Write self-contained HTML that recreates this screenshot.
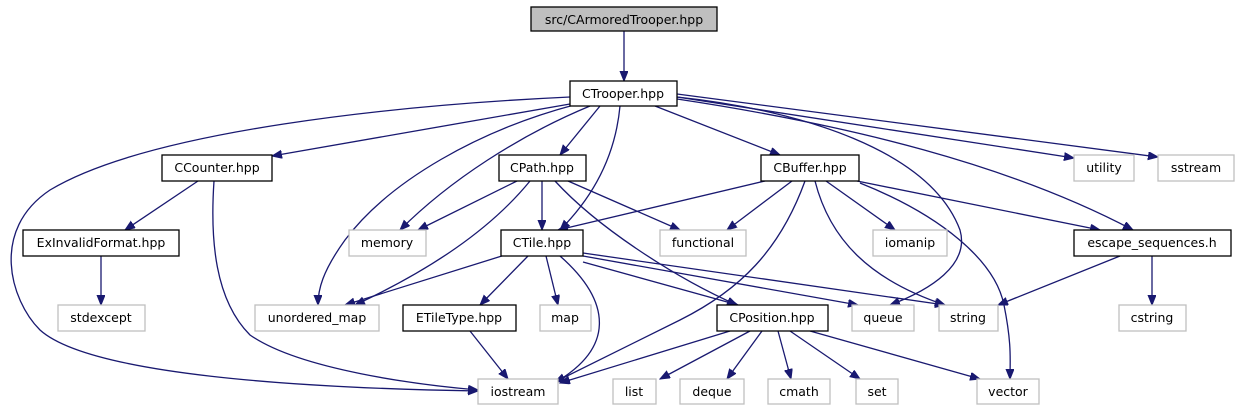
<!DOCTYPE html>
<html><head><meta charset="utf-8"><style>
html,body{margin:0;padding:0;background:#fff;}
svg{display:block;}
text{font-family:"DejaVu Sans","Liberation Sans",sans-serif;font-size:12.5px;fill:#000;text-anchor:middle;}
.d{fill:#fff;stroke:#000;stroke-width:1.3;}
.u{fill:#fff;stroke:#bfbfbf;stroke-width:1.3;}
.e{fill:none;stroke:#191970;stroke-width:1.3;}
</style></head><body>
<svg width="1238" height="411" viewBox="0 0 1238 411" xmlns="http://www.w3.org/2000/svg">
<defs><marker id="a" markerUnits="userSpaceOnUse" markerWidth="11" markerHeight="9" refX="10" refY="4" orient="auto"><path d="M0,0 L10,4 L0,8 z" fill="#191970" stroke="#191970"/></marker></defs>
<g marker-end="url(#a)">
<path class="e" d="M624,31 L624,81"/>
<path class="e" d="M570,97 C400,105 150,130 50,190 C-10,230 10,300 40,330 C90,375 300,388 478,391"/>
<path class="e" d="M570,104 L272,156"/>
<path class="e" d="M574,105 C480,130 390,180 345,240 C322,272 318,290 318,305"/>
<path class="e" d="M590,106 C520,135 450,180 400,230"/>
<path class="e" d="M600,106 L560,155"/>
<path class="e" d="M620,106 C615,160 590,200 560,230"/>
<path class="e" d="M655,106 L780,155"/>
<path class="e" d="M677,97 C800,110 930,150 960,230 C970,265 930,290 890,305"/>
<path class="e" d="M677,99 C850,125 1010,165 1133,230"/>
<path class="e" d="M677,97 L1074,158"/>
<path class="e" d="M677,94 L1158,157"/>
<path class="e" d="M198,181 L125,230"/>
<path class="e" d="M214,181 C210,240 215,300 250,335 C300,370 420,385 478,390"/>
<path class="e" d="M101,256 L101,305"/>
<path class="e" d="M517,181 L418,230"/>
<path class="e" d="M530,181 C490,230 430,270 355,305"/>
<path class="e" d="M542,181 L542,230"/>
<path class="e" d="M568,181 L680,230"/>
<path class="e" d="M555,181 C600,230 680,280 737,305"/>
<path class="e" d="M765,181 L558,230"/>
<path class="e" d="M792,181 L727,230"/>
<path class="e" d="M805,181 C780,250 740,290 680,320 C620,350 580,370 555,382"/>
<path class="e" d="M815,181 C830,240 870,280 945,305"/>
<path class="e" d="M826,181 L895,230"/>
<path class="e" d="M860,183 C940,215 995,260 1004,305 C1012,345 1010,360 1010,379"/>
<path class="e" d="M857,181 L1100,230"/>
<path class="e" d="M505,255 L345,305"/>
<path class="e" d="M528,256 L480,305"/>
<path class="e" d="M546,256 L558,305"/>
<path class="e" d="M560,256 C610,300 620,350 545,388"/>
<path class="e" d="M583,262 L738,305"/>
<path class="e" d="M583,256 L858,305"/>
<path class="e" d="M583,253 L945,305"/>
<path class="e" d="M470,331 L508,379"/>
<path class="e" d="M730,331 L560,383"/>
<path class="e" d="M750,331 L660,379"/>
<path class="e" d="M762,331 L727,379"/>
<path class="e" d="M778,331 L791,379"/>
<path class="e" d="M790,331 L860,379"/>
<path class="e" d="M810,331 L980,379"/>
<path class="e" d="M1120,256 L998,305"/>
<path class="e" d="M1152,256 L1152,305"/>
</g>
<rect x="531" y="7" width="186" height="24" fill="#bfbfbf" stroke="#000" stroke-width="1.3"/><text x="624" y="24">src/CArmoredTrooper.hpp</text>
<rect class="d" x="570" y="81" width="107" height="25"/><text x="623" y="98">CTrooper.hpp</text>
<rect class="d" x="162" y="155" width="110" height="26"/><text x="217" y="172">CCounter.hpp</text>
<rect class="d" x="499" y="155" width="87" height="26"/><text x="542" y="172">CPath.hpp</text>
<rect class="d" x="761" y="155" width="98" height="26"/><text x="810" y="172">CBuffer.hpp</text>
<rect class="u" x="1074" y="155" width="60" height="26"/><text x="1104" y="172">utility</text>
<rect class="u" x="1158" y="155" width="76" height="26"/><text x="1196" y="172">sstream</text>
<rect class="d" x="23" y="230" width="156" height="26"/><text x="101" y="247">ExInvalidFormat.hpp</text>
<rect class="u" x="349" y="230" width="77" height="26"/><text x="387" y="247">memory</text>
<rect class="d" x="501" y="230" width="82" height="26"/><text x="542" y="247">CTile.hpp</text>
<rect class="u" x="660" y="230" width="86" height="26"/><text x="703" y="247">functional</text>
<rect class="u" x="873" y="230" width="74" height="26"/><text x="910" y="247">iomanip</text>
<rect class="d" x="1074" y="230" width="157" height="26"/><text x="1152" y="247">escape_sequences.h</text>
<rect class="u" x="58" y="305" width="87" height="26"/><text x="101" y="322">stdexcept</text>
<rect class="u" x="255" y="305" width="124" height="26"/><text x="317" y="322">unordered_map</text>
<rect class="d" x="403" y="305" width="113" height="26"/><text x="459" y="322">ETileType.hpp</text>
<rect class="u" x="540" y="305" width="51" height="26"/><text x="565" y="322">map</text>
<rect class="d" x="717" y="305" width="111" height="26"/><text x="772" y="322">CPosition.hpp</text>
<rect class="u" x="852" y="305" width="62" height="26"/><text x="883" y="322">queue</text>
<rect class="u" x="939" y="305" width="59" height="26"/><text x="968" y="322">string</text>
<rect class="u" x="1119" y="305" width="67" height="26"/><text x="1152" y="322">cstring</text>
<rect class="u" x="478" y="379" width="80" height="25"/><text x="518" y="396">iostream</text>
<rect class="u" x="613" y="379" width="43" height="25"/><text x="634" y="396">list</text>
<rect class="u" x="680" y="379" width="64" height="25"/><text x="712" y="396">deque</text>
<rect class="u" x="768" y="379" width="62" height="25"/><text x="799" y="396">cmath</text>
<rect class="u" x="856" y="379" width="42" height="25"/><text x="877" y="396">set</text>
<rect class="u" x="977" y="379" width="62" height="25"/><text x="1008" y="396">vector</text>
</svg>
</body></html>
